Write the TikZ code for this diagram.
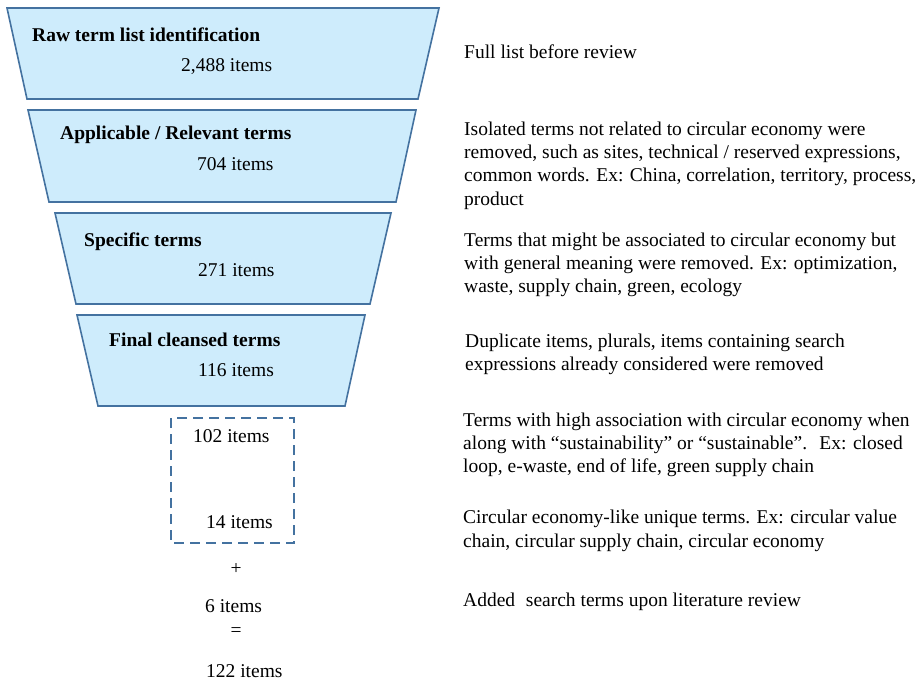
\documentclass[tikz,border=0pt]{standalone}
\usepackage{fontspec}
\setmainfont{Liberation Serif}
\definecolor{funfill}{RGB}{206,236,252}
\definecolor{funline}{RGB}{68,114,160}
\begin{document}
\begin{tikzpicture}[x=1pt,y=-1pt,
  stage/.style={fill=funfill,draw=funline,line width=1.6pt,line join=miter},
  lbl/.style={anchor=base west,inner sep=0pt,font=\fontsize{19.5}{23.3}\selectfont},
  blbl/.style={lbl,font=\fontsize{19.5}{23.3}\selectfont\bfseries},
  desc/.style={lbl,align=left},
  opbox/.style={draw=funline,line width=1.6pt,dash pattern=on 10pt off 6pt}]
\useasboundingbox (0,0) rectangle (920,682);
% funnel stages
\draw[stage] (7,8) coordinate (s1a) -- (439,8) -- (418,99) -- (27,99) -- cycle;
\draw[stage] (28,110) coordinate (s2a) -- (416,110) -- (396,202) -- (49,202) -- cycle;
\draw[stage] (55,213) coordinate (s3a) -- (391,213) -- (370,304) -- (76,304) -- cycle;
\draw[stage] (77,315) coordinate (s4a) -- (365,315) -- (345,406) -- (98,406) -- cycle;
% funnel labels
\node[blbl] (t1) at (32,41.7) {Raw term list identification};
\node[lbl] (n1) at (181,71.7) {2,488 items};
\node[blbl] (t2) at (60,139.3) {Applicable / Relevant terms};
\node[lbl] (n2) at (197,170.7) {704 items};
\node[blbl] (t3) at (84,246.7) {Specific terms};
\node[lbl] (n3) at (198,276.7) {271 items};
\node[blbl] (t4) at (109,346.7) {Final cleansed terms};
\node[lbl] (n4) at (198,376.7) {116 items};
% dashed box and bottom sums
\draw[opbox] (171,418) rectangle (294,543);
\node[lbl] (n5) at (193,442) {102 items};
\node[lbl] (n6) at (206,528) {14 items};
\node[inner sep=0pt,font=\fontsize{19.5}{23.3}\selectfont] (plus) at (236,569) {+};
\node[lbl] (n7) at (205,612) {6 items};
\node[inner sep=0pt,font=\fontsize{19.5}{23.3}\selectfont] (eq) at (236,632) {=};
\node[lbl] (n8) at (206,677) {122 items};
% descriptions (base anchor = baseline of last line)
\node[desc] (d1) at (464,59) {Full list before review};
\node[desc] (d2) at (464,205) {Isolated terms not related to circular economy were\\removed, such as sites, technical / reserved expressions,\\common words. Ex: China, correlation, territory, process,\\product};
\node[desc] (d3) at (464,292.7) {Terms that might be associated to circular economy but\\with general meaning were removed. Ex: optimization,\\waste, supply chain, green, ecology};
\node[desc] (d4) at (465,370.7) {Duplicate items, plurals, items containing search\\expressions already considered were removed};
\node[desc] (d5) at (463,472.7) {Terms with high association with circular economy when\\along with “sustainability” or “sustainable”.\hspace{0.3em} Ex: closed\\loop, e-waste, end of life, green supply chain};
\node[desc] (d6) at (463,547) {Circular economy-like unique terms. Ex: circular value\\chain, circular supply chain, circular economy};
\node[desc] (d7) at (463,606.7) {Added\hspace{0.3em} search terms upon literature review};
\end{tikzpicture}
\end{document}
